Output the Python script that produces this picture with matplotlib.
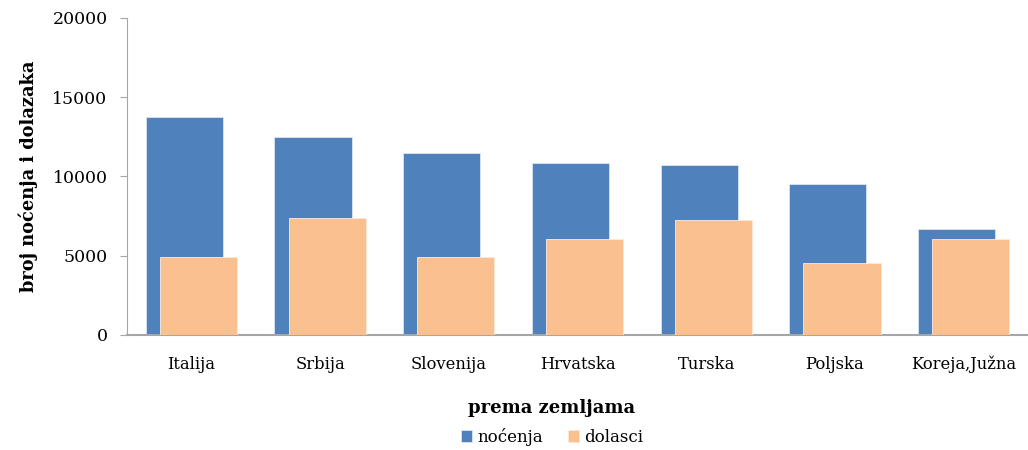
import numpy as np
import matplotlib.pyplot as plt

# podaci po zemljama
zemlje = ["Italija", "Srbija", "Slovenija", "Hrvatska", "Turska", "Poljska", "Koreja,Južna"]
nocenja = [13730, 12510, 11460, 10830, 10750, 9530, 6710]
dolasci = [4920, 7360, 4920, 6040, 7280, 4520, 6040]

plave = "#4F81BD"
narancaste = "#FAC090"
siva = "#A6A6A6"

plt.rcParams['font.family'] = ['DejaVu Serif']

fig = plt.figure(figsize=(10.28, 4.5), dpi=100)
ax = fig.add_axes([0.1235, 0.2556, 0.8765, 0.7044])

x = np.arange(len(zemlje))
w = 0.6
pomak = 0.055
ax.bar(x - pomak, nocenja, w, color=plave, edgecolor="#DCE6F2", linewidth=0.6,
       label="noćenja", zorder=2)
ax.bar(x + pomak, dolasci, w, color=narancaste, edgecolor="#FDE9D9", linewidth=0.6,
       label="dolasci", zorder=3)

ax.set_xlim(-0.5, len(zemlje) - 0.5)
ax.set_ylim(0, 20000)
ax.set_yticks(range(0, 20001, 5000))
ax.set_xticks(x)
ax.set_xticklabels(zemlje, fontsize=11.8)
ax.tick_params(axis="y", labelsize=12.5, length=5, color=siva, pad=9)
ax.tick_params(axis="x", length=0, pad=15)

for s in ["top", "right"]:
    ax.spines[s].set_visible(False)
ax.spines["left"].set_color(siva)
ax.spines["bottom"].set_color(siva)
ax.spines["bottom"].set_linewidth(1.5)

ax.set_ylabel("broj noćenja i dolazaka", fontsize=12.8, fontweight="bold", labelpad=10)

fig.text(552 / 1028, 1 - 408 / 450, "prema zemljama", ha="center", va="center",
         fontsize=13, fontweight="bold")
fig.legend(loc="center", bbox_to_anchor=(552 / 1028, 1 - 437 / 450), ncol=2,
           frameon=False, fontsize=12, handlelength=0.7, handleheight=0.7,
           handletextpad=0.3, columnspacing=1.5)

fig.savefig("out.png", dpi=100)
